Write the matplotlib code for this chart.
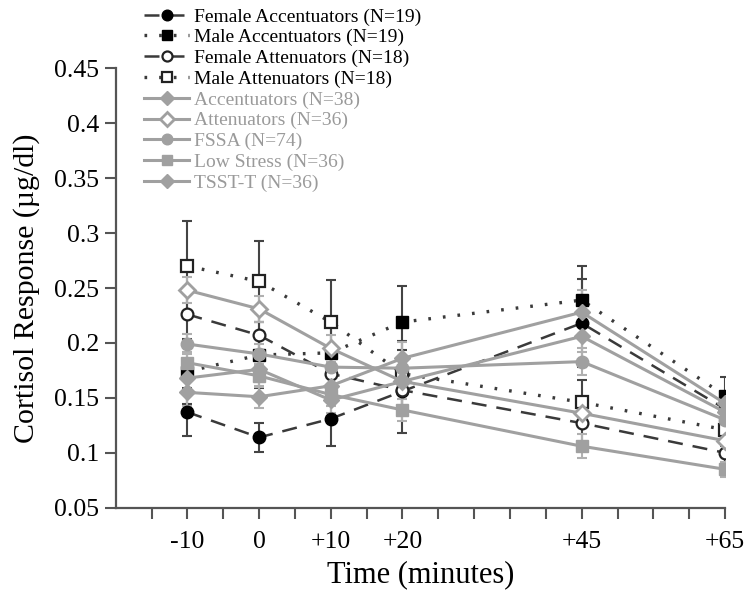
import numpy as np
import matplotlib.pyplot as plt

plt.rcParams['font.family'] = ['Liberation Serif', 'DejaVu Serif']

# time points (minutes) and labels
times = [-10, 0, 10, 20, 45, 65]
x_tick_labels = ['-10', '0', '+10', '+20', '+45', '+65']
y_ticks = [0.05, 0.1, 0.15, 0.2, 0.25, 0.3, 0.35, 0.4, 0.45]
y_tick_labels = ['0.05', '0.1', '0.15', '0.2', '0.25', '0.3', '0.35', '0.4', '0.45']

# cortisol means (ug/dl)
female_acc = [0.137, 0.114, 0.131, 0.156, 0.218, 0.140]
male_acc = [0.174, 0.189, 0.191, 0.219, 0.239, 0.152]
female_att = [0.226, 0.207, 0.172, 0.157, 0.127, 0.100]
male_att = [0.270, 0.256, 0.219, 0.172, 0.146, 0.121]
accentuators = [0.155, 0.151, 0.161, 0.186, 0.228, 0.145]
attenuators = [0.248, 0.231, 0.195, 0.165, 0.136, 0.111]
fssa = [0.199, 0.190, 0.178, 0.177, 0.183, 0.130]
low_stress = [0.182, 0.170, 0.153, 0.139, 0.106, 0.085]
tsst_t = [0.168, 0.176, 0.148, 0.165, 0.206, 0.137]

# standard errors
female_acc_err = [0.022, 0.013, 0.025, 0.038, 0.040, 0.015]
male_acc_err = [0.030, 0.030, 0.030, 0.033, 0.031, 0.017]
female_att_err = [0.025, 0.020, 0.020, 0.020, 0.020, 0.012]
male_att_err = [0.041, 0.037, 0.038, 0.030, 0.020, 0.015]
accentuators_err = [0.012, 0.010, 0.012, 0.015, 0.020, 0.010]
attenuators_err = [0.012, 0.012, 0.012, 0.012, 0.012, 0.008]
fssa_err = [0.009, 0.009, 0.009, 0.010, 0.012, 0.007]
low_stress_err = [0.010, 0.010, 0.010, 0.010, 0.011, 0.007]
tsst_t_err = [0.012, 0.012, 0.012, 0.012, 0.014, 0.009]

labels = ['Female Accentuators (N=19)', 'Male Accentuators (N=19)',
          'Female Attenuators (N=18)', 'Male Attenuators (N=18)',
          'Accentuators (N=38)', 'Attenuators (N=36)', 'FSSA (N=74)',
          'Low Stress (N=36)', 'TSST-T (N=36)']

dark = '#3a3a3a'
grey = '#a0a0a0'
dash = (0, (6, 4))
dot = (0, (0.8, 3.6))

series = [
    (female_acc, female_acc_err, dict(ls=dash, lw=1.8, color=dark, marker='o', mfc='black', mec='black', ms=9)),
    (male_acc, male_acc_err, dict(ls=dot, lw=2.4, color=dark, marker='s', mfc='black', mec='black', ms=8.5)),
    (female_att, female_att_err, dict(ls=dash, lw=1.8, color=dark, marker='o', mfc='white', mec='#222222', mew=1.6, ms=8.5)),
    (male_att, male_att_err, dict(ls=dot, lw=2.4, color=dark, marker='s', mfc='white', mec='#222222', mew=1.6, ms=8.5)),
    (accentuators, accentuators_err, dict(ls='-', lw=2.2, color=grey, marker='D', mfc=grey, mec=grey, ms=8)),
    (attenuators, attenuators_err, dict(ls='-', lw=2.2, color=grey, marker='D', mfc='white', mec=grey, mew=2, ms=8)),
    (fssa, fssa_err, dict(ls='-', lw=2.2, color=grey, marker='o', mfc=grey, mec=grey, ms=9)),
    (low_stress, low_stress_err, dict(ls='-', lw=2.2, color=grey, marker='s', mfc=grey, mec=grey, ms=8.5)),
    (tsst_t, tsst_t_err, dict(ls='-', lw=2.2, color=grey, marker='D', mfc=grey, mec=grey, ms=8)),
]

fig = plt.figure(figsize=(7.5, 5.93), dpi=100)
ax = fig.add_axes([0.1543, 0.1438, 0.8124, 0.741])

handles = []
for i, (vals, errs, st) in enumerate(series):
    ecol = '#444444' if i < 4 else '#b0b0b0'
    ax.errorbar(times, vals, yerr=errs, fmt='none', ecolor=ecol, elinewidth=1.5,
                capsize=3.5, capthick=1.5, zorder=1 + i * 0.1)
    h, = ax.plot(times, vals, zorder=3 + i * 0.1, **st)
    handles.append(h)

ax.set_xlim(-20, 65)
ax.set_ylim(0.05, 0.45)
ax.set_xticks(range(-15, 70, 5))
ax.set_xticklabels([x_tick_labels[times.index(t)] if t in times else '' for t in range(-15, 70, 5)])
ax.set_yticks(y_ticks)
ax.set_yticklabels(y_tick_labels)

for s in ['top', 'right']:
    ax.spines[s].set_visible(False)
for s in ['left', 'bottom']:
    ax.spines[s].set_color('#555555')
    ax.spines[s].set_linewidth(1.6)
ax.tick_params(direction='out', length=8, width=1.5, color='#555555', labelsize=18.5)
ax.tick_params(axis='x', pad=9)
ax.tick_params(axis='y', pad=4)

ax.set_xlabel('Time (minutes)', fontsize=22, labelpad=5)
ax.set_ylabel('Cortisol Response (\u00b5g/dl)', fontsize=21.5, labelpad=10)

leg = fig.legend(handles, labels, loc='upper left', bbox_to_anchor=(0.19, 0.99),
                 frameon=False, fontsize=14, labelspacing=0.16, handlelength=2.3,
                 handletextpad=0.25, borderpad=0.1, borderaxespad=0, markerscale=0.85)
for i, t in enumerate(leg.get_texts()):
    t.set_color('black' if i < 4 else '#9a9a9a')

fig.savefig('out.png', dpi=100)
